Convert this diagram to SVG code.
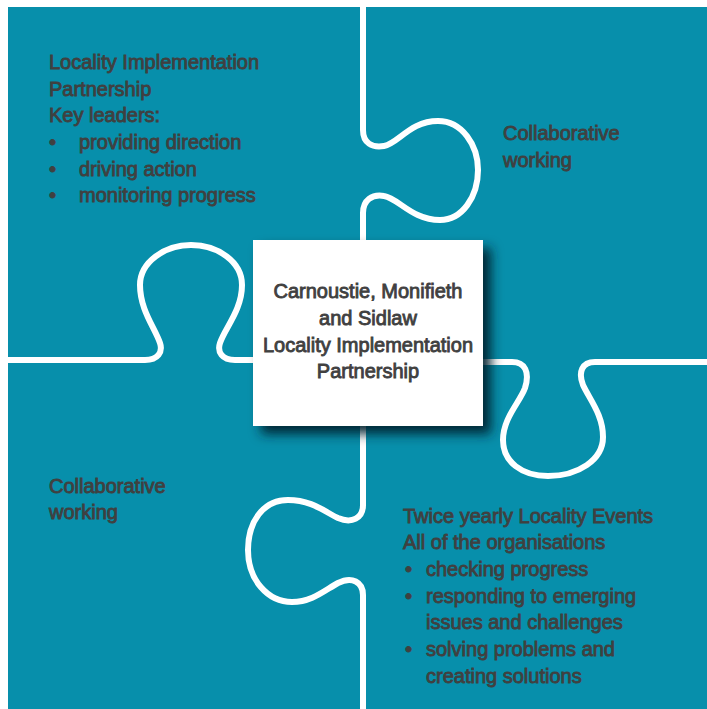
<svg xmlns="http://www.w3.org/2000/svg" width="707" height="709" viewBox="0 0 707 709">
<defs>
<style>
.t{font-family:"Liberation Sans",Arial,sans-serif;font-size:20px;fill:#404040;stroke:#404040;stroke-width:0.85}
.c{text-anchor:middle}
.line{fill:none;stroke:#ffffff;stroke-width:6;stroke-linecap:round;stroke-linejoin:round}
</style>
<filter id="sh" x="-10%" y="-10%" width="135%" height="135%">
<feDropShadow dx="8" dy="8" stdDeviation="6" flood-color="#00232e" flood-opacity="0.95"/>
</filter>
</defs>
<rect x="0" y="0" width="707" height="709" fill="#ffffff"/>
<rect x="8" y="7" width="699" height="702" fill="#078fab"/>
<g id="connectors">
<path class="line" d="M 0 360 L 145 360 C 158 360 163 352 160 343 C 155 328 140 310 140 285 C 140 262 165 245 191 245 C 218 245 242 262 242 285 C 242 310 225 328 220 343 C 217 352 222 360 235 360 L 265 360"/>
<path class="line" d="M 363 0 L 363 130 C 363 143 372 148 384 146 C 398 144 410 121 438 121 C 462 121 478 145 478 170 C 478 197 462 220 440 220 C 412 220 398 198 384 196 C 372 194 363 200 363 213 L 363 250"/>
<path class="line" d="M 363 420 L 363 505 C 363 518 352 524 338 518 C 325 512 312 500 288 500 C 263 500 248 522 248 550 C 248 580 268 602 292 602 C 312 602 325 590 338 583 C 352 576 363 582 363 595 L 363 712"/>
<path class="line" d="M 470 362 L 512 362 C 525 362 530 372 525 388 C 520 402 503 418 503 440 C 503 462 522 476 548 476 C 578 476 603 460 603 437 C 603 415 590 400 583 385 C 578 372 582 362 595 362 L 710 362"/>
</g>
<g id="top-left">
<text class="t" x="49" y="69">Locality Implementation</text>
<text class="t" x="49" y="96">Partnership</text>
<text class="t" x="49" y="122">Key leaders:</text>
<text class="t" x="49" y="149">•</text>
<text class="t" x="79" y="149">providing direction</text>
<text class="t" x="49" y="176">•</text>
<text class="t" x="79" y="176">driving action</text>
<text class="t" x="49" y="202">•</text>
<text class="t" x="79" y="202">monitoring progress</text>
</g>
<g id="top-right">
<text class="t" x="503" y="140">Collaborative</text>
<text class="t" x="503" y="167">working</text>
</g>
<g id="bottom-left">
<text class="t" x="49" y="493">Collaborative</text>
<text class="t" x="49" y="519">working</text>
</g>
<g id="bottom-right">
<text class="t" x="403" y="523">Twice yearly Locality Events</text>
<text class="t" x="403" y="549">All of the organisations</text>
<text class="t" x="405" y="576">•</text>
<text class="t" x="426" y="576">checking progress</text>
<text class="t" x="405" y="603">•</text>
<text class="t" x="426" y="603">responding to emerging</text>
<text class="t" x="426" y="629">issues and challenges</text>
<text class="t" x="405" y="656">•</text>
<text class="t" x="426" y="656">solving problems and</text>
<text class="t" x="426" y="683">creating solutions</text>
</g>
<g id="center">
<rect x="253" y="240" width="230" height="186" fill="#ffffff" filter="url(#sh)"/>
<text class="t c" x="368" y="298">Carnoustie, Monifieth</text>
<text class="t c" x="368" y="325">and Sidlaw</text>
<text class="t c" x="368" y="352">Locality Implementation</text>
<text class="t c" x="368" y="378">Partnership</text>
</g>
</svg>
